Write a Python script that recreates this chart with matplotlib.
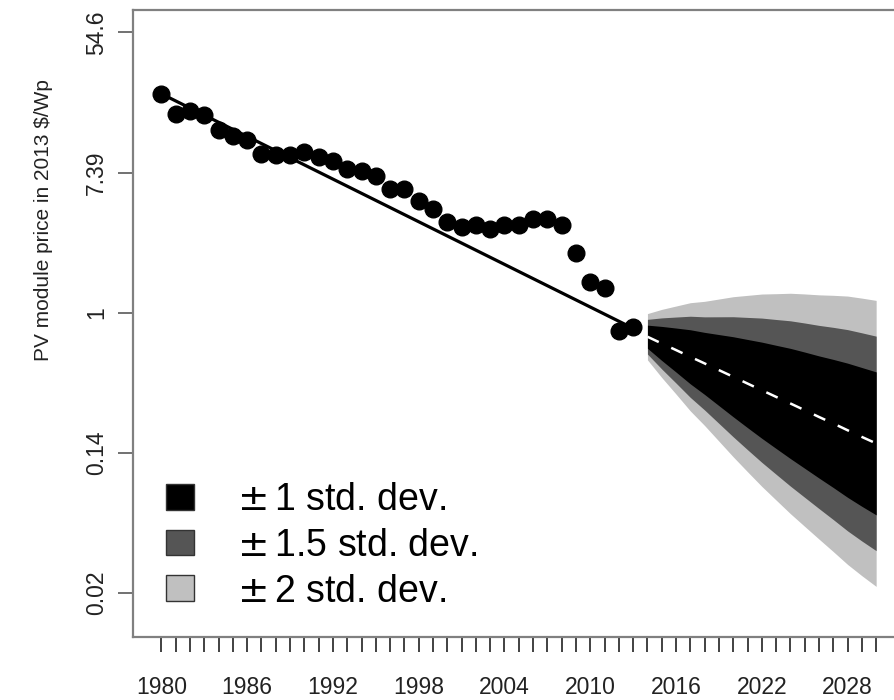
import numpy as np
import matplotlib
matplotlib.use('Agg')
import matplotlib.pyplot as plt
from matplotlib.patches import Patch

plt.rcParams['font.family'] = ['Liberation Sans', 'DejaVu Sans']

# observed module prices (2013 $/Wp), one per year
years = np.arange(1980, 2014)
price = [22.7, 17.1, 17.7, 16.7, 13.6, 12.5, 11.7, 9.65, 9.42, 9.42,
         9.88, 9.19, 8.68, 7.79, 7.60, 7.08, 5.85, 5.81, 4.90, 4.40,
         3.63, 3.42, 3.51, 3.31, 3.47, 3.51, 3.81, 3.81, 3.47, 2.33,
         1.54, 1.42, 0.773, 0.819]

# fitted trend line (end points)
trend_years = [1980, 2013]
trend_price = [22.7, 0.80]

# forecast: median and std. dev. (natural log units)
fc_years = np.arange(2014, 2031)
fc_median = [0.71, 0.645, 0.587, 0.533, 0.485, 0.441, 0.401, 0.364, 0.331,
             0.301, 0.274, 0.249, 0.226, 0.206, 0.187, 0.170, 0.155]
fc_sd = [0.165, 0.243, 0.314, 0.386, 0.443, 0.507, 0.571, 0.629, 0.686,
         0.736, 0.786, 0.829, 0.871, 0.914, 0.957, 0.99, 1.02]

bands = [2, 1.5, 1]
band_colors = ['#c0c0c0', '#555555', '#000000']
band_labels = [r'$\pm\,$1 std. dev.', r'$\pm\,$1.5 std. dev.', r'$\pm\,$2 std. dev.']

ytick_vals = [np.exp(4), np.exp(2), 1, np.exp(-2), np.exp(-4)]
ytick_labels = ['54.6', '7.39', '1', '0.14', '0.02']

fig = plt.figure(figsize=(8.95, 7.0), dpi=100)
ax = fig.add_axes([0.1484, 0.09, 0.8625, 0.8964])

med = np.array(fc_median)
sd = np.array(fc_sd)
for k, col in zip(bands, band_colors):
    ax.fill_between(fc_years, med*np.exp(-k*sd), med*np.exp(k*sd),
                    color=col, lw=0, zorder=1)
ax.plot(fc_years, fc_median, color='white', lw=1.8, dashes=(5, 5.5), zorder=2)

ax.plot(trend_years, trend_price, color='black', lw=2.3, zorder=3)
ax.plot(years, price, 'o', color='black', ms=12, zorder=4)

ax.set_yscale('log')
ax.set_ylim(np.exp(-4.626), np.exp(4.325))
ax.set_xlim(1978, 2032)

ax.set_yticks(ytick_vals)
ax.set_yticklabels(ytick_labels, rotation=90, va='center')
ax.yaxis.set_minor_locator(matplotlib.ticker.NullLocator())

xt = np.arange(1980, 2031)
ax.set_xticks(xt)
ax.set_xticklabels([str(y) if (y - 1980) % 6 == 0 else '' for y in xt])

ax.tick_params(axis='x', length=11, width=1.3, color='#333333', pad=17,
               labelsize=16.5, labelcolor='#222222')
ax.tick_params(axis='y', length=11, width=1.3, color='#666666', pad=7,
               labelsize=16.5, labelcolor='#222222')
for s in ax.spines.values():
    s.set_color('#808080')
    s.set_linewidth(1.6)

ax.set_ylabel('PV module price in 2013 $/Wp', fontsize=15, color='#222222')
ax.yaxis.set_label_coords(-0.104, 0.665)

# legend, boxes in the lower left
handles = [Patch(facecolor=c, edgecolor='#333333', lw=1) for c in band_colors[::-1]]
leg = ax.legend(handles, band_labels, loc='upper left',
                bbox_to_anchor=(166/895, 1 - 482/700), bbox_transform=fig.transFigure,
                frameon=False, fontsize=27, handlelength=0.75, handleheight=0.68,
                handletextpad=1.15, labelspacing=0.26, borderpad=0, borderaxespad=0)

fig.savefig('out.png', dpi=100)
